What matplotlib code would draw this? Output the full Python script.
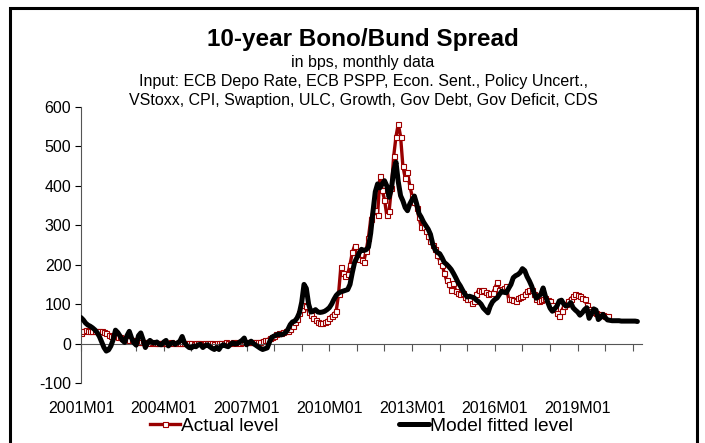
# -*- coding: utf-8 -*-
"""
10-year Bono/Bund spread: actual level vs. model fitted level, monthly
"""

import numpy as np
from matplotlib import pyplot as plt
from matplotlib import patches

plt.rcParams['font.family'] = ['Liberation Sans', 'DejaVu Sans']
plt.rcParams['axes.unicode_minus'] = False

# monthly data, first observation 2001M01 (bps)
actual = [
    28, 33, 34, 33, 32, 32, 32, 31, 32, 31, 29, 26,              # 2001
    22, 19, 18, 18, 17, 16, 15, 13, 12, 10, 9, 8,                # 2002
    6, 5, 4, 4, 3, 3, 2, 3, 2, 2, 2, 1,                          # 2003
    2, 1, 2, 3, 2, 1, 2, 1, 1, 2, 1, 1,                          # 2004
    1, 0, 1, 2, 1, 0, 1, 2, 1, 1, 0, 1,                          # 2005
    2, 1, 2, 3, 2, 2, 3, 2, 3, 2, 3, 3,                          # 2006
    3, 4, 3, 4, 3, 4, 5, 7, 9, 10, 13, 16,                       # 2007
    20, 24, 27, 28, 29, 31, 33, 38, 45, 55, 62, 78,              # 2008
    88, 98, 95, 80, 72, 66, 60, 54, 53, 52, 55, 57,              # 2009
    66, 70, 76, 82, 125, 193, 178, 172, 176, 200, 231, 248,      # 2010
    221, 215, 213, 208, 235, 268, 315, 335, 340, 325, 425, 390,  # 2011
    365, 325, 335, 395, 475, 525, 557, 525, 450, 420, 435, 400,  # 2012
    375, 360, 345, 320, 295, 295, 285, 273, 260, 250, 239, 225,  # 2013
    210, 200, 180, 160, 150, 137, 154, 133, 128, 125, 129, 118,  # 2014
    114, 112, 104, 108, 125, 137, 133, 137, 130, 125, 129, 128,  # 2015
    140, 155, 137, 138, 141, 146, 112, 112, 110, 108, 116, 118,  # 2016
    120, 126, 133, 137, 137, 125, 112, 108, 110, 112, 116, 110,  # 2017
    108, 99, 87, 78, 70, 82, 95, 100, 108, 114, 120, 125,        # 2018
    122, 120, 116, 112, 99, 87, 82, 80, 78, 76, 74, 72,          # 2019
    70, 70,                                                      # 2020
]

model = [
    66, 60, 52, 47, 44, 40, 35, 28, 18, 4, -10, -19,             # 2001
    -16, -6, 10, 34, 28, 19, 8, 3, 20, 31, 14, 2,                # 2002
    -4, 20, 27, 10, -10, 2, 8, 3, 1, 4, -2, -3,                  # 2003
    4, 8, -6, 0, 3, -2, 2, 6, 18, 2, -5, -10,                    # 2004
    -11, -6, -8, -3, -2, -10, -5, -3, -8, -12, -15, -10,         # 2005
    -15, -6, -3, -6, -8, -2, 2, -1, 0, 4, 8, 14,                 # 2006
    -3, 2, 6, 0, -4, -8, -12, -15, -13, -11, 4, 16,              # 2007
    19, 22, 24, 22, 24, 28, 36, 48, 55, 57, 65, 78,              # 2008
    105, 150, 140, 100, 80, 82, 86, 80, 79, 80, 82, 86,          # 2009
    91, 100, 112, 122, 128, 131, 133, 135, 137, 150, 180, 206,   # 2010
    218, 230, 239, 236, 238, 244, 280, 335, 385, 405, 395, 405,  # 2011
    413, 400, 371, 392, 439, 460, 410, 375, 362, 345, 337, 354,  # 2012
    365, 374, 354, 330, 320, 308, 299, 290, 277, 252, 238, 231,  # 2013
    228, 218, 206, 201, 195, 188, 178, 167, 155, 146, 135, 125,  # 2014
    118, 120, 118, 116, 110, 106, 100, 90, 84, 78, 95, 106,      # 2015
    112, 116, 125, 133, 130, 129, 140, 150, 167, 172, 175, 180,  # 2016
    190, 185, 170, 159, 146, 129, 115, 120, 125, 141, 120, 105,  # 2017
    90, 82, 88, 95, 108, 110, 100, 95, 98, 104, 91, 85,          # 2018
    80, 72, 78, 86, 91, 64, 75, 88, 85, 61, 66, 74,              # 2019
    66, 60, 59, 58, 58, 58, 58, 57, 57, 57, 57, 57,              # 2020
    57, 57, 56,                                                  # 2021
]

xlabels = ['2001M01', '2004M01', '2007M01', '2010M01', '2013M01', '2016M01', '2019M01']
yticks = [-100, 0, 100, 200, 300, 400, 500, 600]

title = '10-year Bono/Bund Spread'
subtitle = ['in bps, monthly data',
            'Input: ECB Depo Rate, ECB PSPP, Econ. Sent., Policy Uncert.,',
            'VStoxx, CPI, Swaption, ULC, Growth, Gov Debt, Gov Deficit, CDS']

W, H = 705, 443
fig = plt.figure(figsize=(W / 100, H / 100), dpi=100)
ax = fig.add_axes([81 / W, 60 / H, 561 / W, 276 / H])

m_act = np.arange(len(actual))
m_mod = np.arange(len(model))

ax.plot(m_act, actual, color='#990000', lw=2.4, marker='s', ms=3.6,
        mfc='white', mec='#a00000', mew=0.8, label='Actual level', zorder=2)
ax.plot(m_mod, model, color='black', lw=3.6, label='Model fitted level', zorder=3,
        solid_joinstyle='round', solid_capstyle='round')

ax.set_xlim(0, 244)
ax.set_ylim(-100, 600)
ax.set_yticks(yticks)
ax.tick_params(axis='y', direction='out', length=4, width=0.8, labelsize=11.5, pad=3)

# horizontal axis crosses at zero, yearly tick marks
ax.spines['bottom'].set_position(('data', 0))
ax.spines['bottom'].set_color('#555555')
ax.spines['left'].set_color('#555555')
ax.spines['top'].set_visible(False)
ax.spines['right'].set_visible(False)
ax.set_xticks(np.arange(0, 241, 12))
ax.tick_params(axis='x', direction='out', length=5, width=0.8, color='#555555', labelbottom=False)

# category labels sit low, under the plot area
sec = ax.secondary_xaxis(0.0)
sec.set_xticks(np.arange(len(xlabels)) * 36, labels=xlabels)
sec.spines['bottom'].set_visible(False)
sec.tick_params(axis='x', length=0, labelsize=11.5, pad=13)

fig.text(0.515, 0.910, title, ha='center', va='center', fontsize=17.5, fontweight='bold')
for i, s in enumerate(subtitle):
    fig.text(0.515, 0.859 - i * 0.043, s, ha='center', va='center', fontsize=11.5)

fig.legend(loc='center', bbox_to_anchor=(0.513, 0.038), ncol=2, frameon=False,
           fontsize=13.8, handlelength=1.55, handletextpad=0.05, columnspacing=6.3)

# chart border
fig.add_artist(patches.Rectangle((10 / W, -0.05), 687 / W, 1.05 - 8 / H,
                                 transform=fig.transFigure, fill=False,
                                 lw=2.2, edgecolor='black'))

plt.savefig('out.png', dpi=100)
